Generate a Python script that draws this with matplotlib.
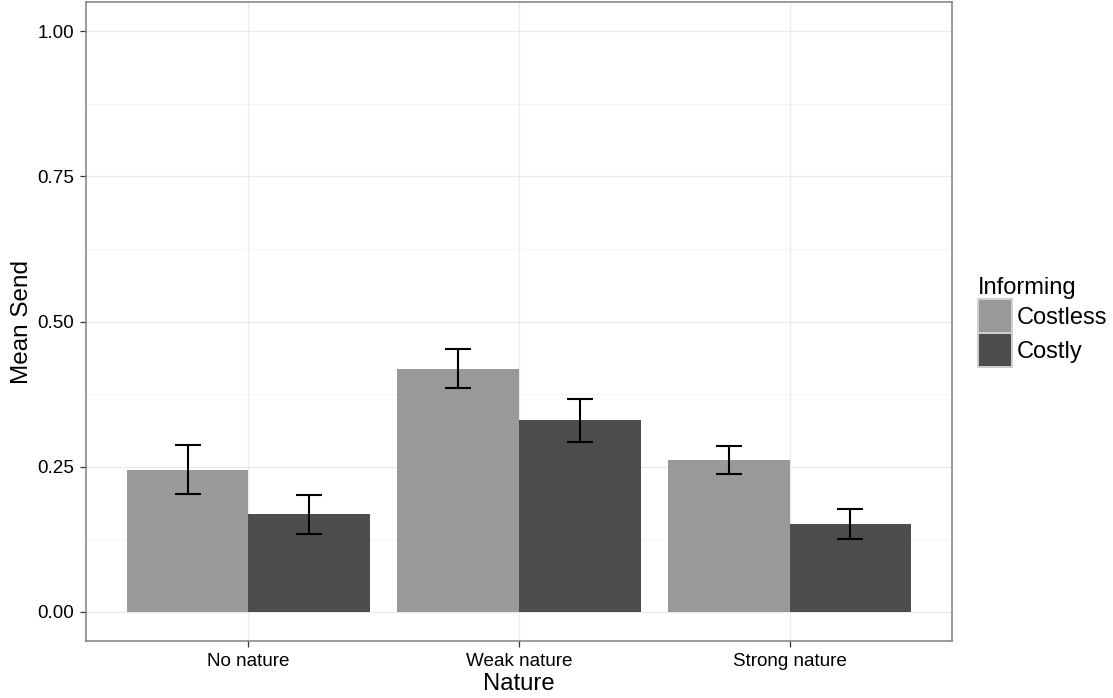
import numpy as np
import matplotlib
matplotlib.use("Agg")
import matplotlib.pyplot as plt
from matplotlib.patches import Patch
from matplotlib.ticker import MultipleLocator

plt.rcParams['font.family'] = ['Liberation Sans', 'DejaVu Sans']

# mean send by nature treatment and informing cost, with error bars
categories = ['No nature', 'Weak nature', 'Strong nature']
groups = ['Costless', 'Costly']
means = {
    'Costless': [0.245, 0.419, 0.261],
    'Costly': [0.168, 0.330, 0.151],
}
errors = {
    'Costless': [0.042, 0.034, 0.024],
    'Costly': [0.033, 0.037, 0.026],
}
colors = {'Costless': '#999999', 'Costly': '#4d4d4d'}

fig = plt.figure(figsize=(11.13, 6.98), dpi=100)
ax = fig.add_axes([0.0773, 0.0817, 0.778, 0.9153])

x = np.arange(1, len(categories) + 1)
width = 0.45
for i, g in enumerate(groups):
    pos = x + (i - 0.5) * width
    ax.bar(pos, means[g], width=width, color=colors[g], zorder=2)
    ax.errorbar(pos, means[g], yerr=errors[g], fmt='none', ecolor='black',
                elinewidth=1.5, capsize=9.7, capthick=1.5, zorder=3)

ax.set_xlim(0.4, 3.6)
ax.set_ylim(-0.05, 1.05)
ax.set_xticks(x)
ax.set_xticklabels(categories)
ax.yaxis.set_major_locator(MultipleLocator(0.25))
ax.yaxis.set_minor_locator(MultipleLocator(0.125))
ax.set_yticklabels([f'{v:.2f}' for v in ax.get_yticks()])
ax.set_ylim(-0.05, 1.05)

ax.grid(True, which='major', color='#ebebeb', linewidth=1.0, zorder=0)
ax.grid(True, which='minor', axis='y', color='#f2f2f2', linewidth=0.6, zorder=0)
ax.set_axisbelow(True)

for s in ax.spines.values():
    s.set_color('#7f7f7f')
    s.set_linewidth(1.1)

ax.tick_params(axis='both', which='major', length=4.3, width=0.9, color='#333333',
               labelsize=13.6, labelcolor='black', pad=4.5)
ax.tick_params(axis='y', which='minor', length=0)

ax.set_xlabel('Nature', fontsize=17.2, labelpad=2)
ax.set_ylabel('Mean Send', fontsize=17.5, labelpad=3)

handles = [Patch(facecolor=colors[g], edgecolor='#d0d0d0', linewidth=1.4) for g in groups]
leg = fig.legend(handles, groups, title='Informing', loc='upper left',
                 bbox_to_anchor=(978 / 1113, 1 - 277 / 698), frameon=False,
                 fontsize=17, title_fontsize=17, borderpad=0, borderaxespad=0,
                 handlelength=1.44, handleheight=1.84, labelspacing=0.0,
                 handletextpad=0.2)
leg._legend_box.align = 'left'

fig.savefig('out.png', dpi=100)
